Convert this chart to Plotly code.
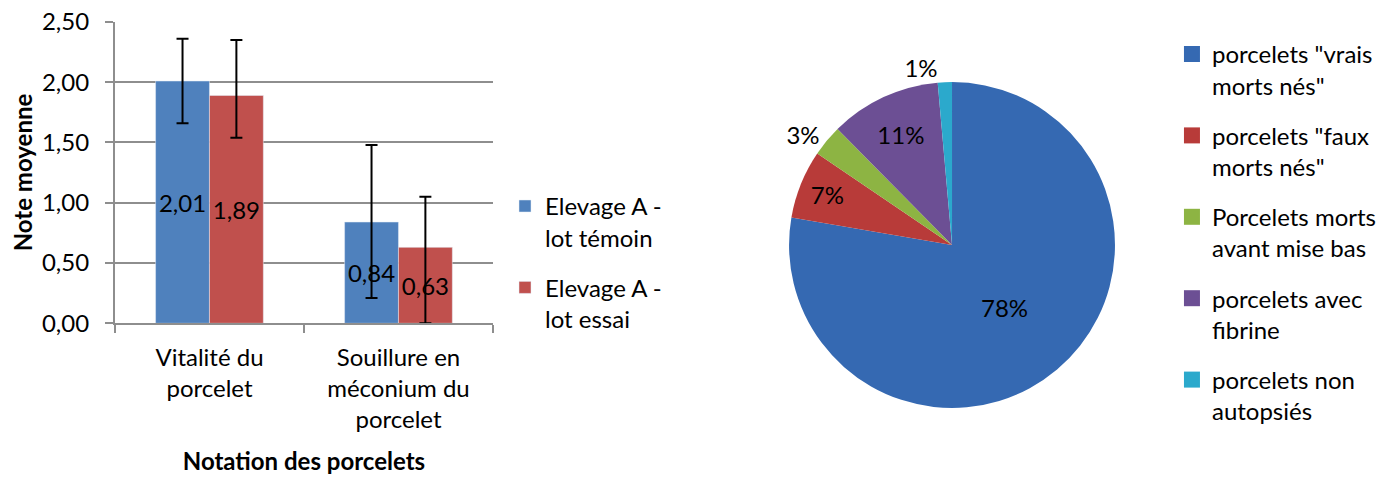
import plotly.graph_objects as go

# --- bar chart data ---
categories = ["Vitalité du<br>porcelet", "Souillure en<br>méconium du<br>porcelet"]
temoin = [2.01, 0.84]
essai = [1.89, 0.63]
temoin_err_plus = [0.35, 0.64]
temoin_err_minus = [0.35, 0.63]
essai_err_plus = [0.46, 0.42]
essai_err_minus = [0.35, 0.63]
bar_names = ["Elevage A -<br>lot témoin", "Elevage A -<br>lot essai"]

# --- pie chart data ---
pie_labels = [
    'porcelets "vrais<br>morts nés"',
    'porcelets "faux<br>morts nés"',
    "Porcelets morts<br>avant mise bas",
    "porcelets avec<br>fibrine",
    "porcelets non<br>autopsiés",
]
pie_values = [77.7, 6.8, 3.1, 11.0, 1.4]
pie_colors = ["#3569b2", "#b83b39", "#8db443", "#6c4f94", "#2ba9cc"]

FONT = "Lato"
FS = 24
GRID = "#8e8e8e"

fig = go.Figure()

fig.add_trace(go.Bar(
    x=categories, y=temoin, name=bar_names[0], marker_color="#4f81bd",
    text=["2,01", "0,84"], textposition="inside", insidetextanchor="middle",
    textfont=dict(size=FS, color="black"),
    error_y=dict(type="data", symmetric=False, array=temoin_err_plus,
                 arrayminus=temoin_err_minus, color="black", thickness=2, width=6),
    legend="legend", legendgroup="a",
))
fig.add_trace(go.Bar(
    x=categories, y=essai, name=bar_names[1], marker_color="#c0504d",
    text=["1,89", "0,63"], textposition="inside", insidetextanchor="middle",
    textfont=dict(size=FS, color="black"),
    error_y=dict(type="data", symmetric=False, array=essai_err_plus,
                 arrayminus=essai_err_minus, color="black", thickness=2, width=6),
    legend="legend", legendgroup="b",
))

fig.add_trace(go.Pie(
    labels=pie_labels, values=pie_values, sort=False, direction="clockwise",
    rotation=0, marker=dict(colors=pie_colors), showlegend=False,
    texttemplate="%{percent:.0%}",
    textposition=["inside", "inside", "outside", "inside", "outside"],
    insidetextorientation="horizontal",
    textfont=dict(size=FS, color="black"),
    domain=dict(x=[0.5579, 0.7907], y=[0.1632, 0.8452]),
    automargin=False,
))

# legend entries for the pie slices
for i, (lab, col) in enumerate(zip(pie_labels, pie_colors)):
    fig.add_trace(go.Scatter(
        x=[None], y=[None], mode="markers", name=lab,
        marker=dict(symbol="square", size=16, color=col),
        legend="legend2", legendgroup="p%d" % i, hoverinfo="skip",
    ))

# the page body adds an 8px offset, positions below account for it
fig.update_layout(
    width=1400, height=478,
    margin=dict(l=0, r=0, t=0, b=0, autoexpand=False),
    paper_bgcolor="white", plot_bgcolor="white",
    font=dict(family=FONT, size=FS, color="black"),
    barmode="group", bargap=0.43, bargroupgap=0,
    showlegend=True,
    legend=dict(x=0.355, y=0.632, xanchor="left", yanchor="top",
                valign="top", tracegroupgap=16, font=dict(size=FS),
                bgcolor="rgba(0,0,0,0)"),
    legend2=dict(x=0.8314, y=0.95, xanchor="left", yanchor="top",
                 valign="top", tracegroupgap=16, font=dict(size=FS),
                 bgcolor="rgba(0,0,0,0)"),
    uniformtext=dict(minsize=FS, mode="show"),
    separators=", ",
)

fig.update_xaxes(
    domain=[0.0764, 0.3464], showline=True, linecolor=GRID, linewidth=2,
    ticks="outside", tickson="boundaries", ticklen=8, tickcolor=GRID, tickwidth=2,
    ticklabelstandoff=12,
    title=dict(text="<b>Notation des porcelets</b>", font=dict(size=FS), standoff=21),
    tickfont=dict(size=FS), automargin=False,
)
fig.update_yaxes(
    domain=[0.3404, 0.9713], range=[0, 2.502], dtick=0.5, tick0=0, tickformat=".2f",
    showline=True, linecolor=GRID, linewidth=2,
    showgrid=True, gridcolor=GRID, gridwidth=2, zeroline=False,
    ticks="outside", ticklen=8, tickcolor=GRID, tickwidth=2,
    ticklabelstandoff=11, ticklabeloverflow="allow",
    title=dict(text="<b>Note moyenne</b>", font=dict(size=FS), standoff=17),
    tickfont=dict(size=FS), automargin=False,
)

fig.write_html("out.html")
